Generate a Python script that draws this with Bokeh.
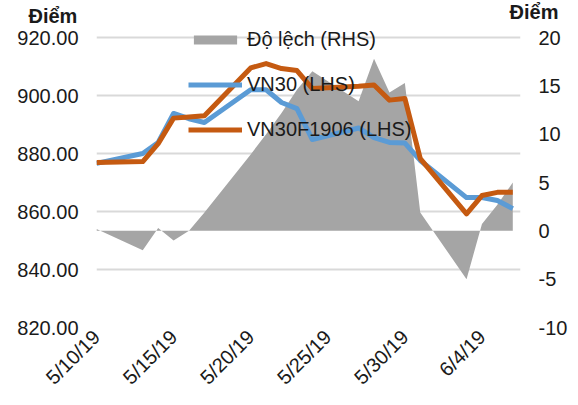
import pandas as pd
from bokeh.plotting import figure
from bokeh.models import (Range1d, LinearAxis, FixedTicker, Title,
                          Legend, LegendItem, NumeralTickFormatter)
from bokeh.embed import file_html
from bokeh.resources import INLINE

dates = ["2019-05-10", "2019-05-13", "2019-05-14", "2019-05-15", "2019-05-16", "2019-05-17",
         "2019-05-20", "2019-05-21", "2019-05-22", "2019-05-23", "2019-05-24",
         "2019-05-27", "2019-05-28", "2019-05-29", "2019-05-30", "2019-05-31",
         "2019-06-03", "2019-06-04", "2019-06-05", "2019-06-06"]
vn30 = [876.6, 880.0, 883.8, 893.8, 892.0, 890.7, 902.0, 902.0, 897.6, 895.5, 884.8,
        888.8, 885.5, 883.8, 883.6, 877.6, 864.8, 864.8, 863.8, 861.0]
vn30f = [876.9, 877.2, 883.4, 892.2, 892.6, 893.0, 909.5, 911.0, 909.3, 908.6, 902.4,
         903.2, 903.6, 898.4, 899.0, 878.2, 859.2, 865.5, 866.6, 866.6]
dev = [0.2, -2.0, 0.3, -1.0, 0.0, 1.9, 7.9, 10.0, 12.2, 14.6, 16.5,
       13.4, 17.8, 14.3, 15.3, 1.9, -5.0, 0.7, 2.7, 5.0]
tick_dates = ["2019-05-10", "2019-05-15", "2019-05-20", "2019-05-25", "2019-05-30", "2019-06-04"]
tick_labels = ["5/10/19", "5/15/19", "5/20/19", "5/25/19", "5/30/19", "6/4/19"]
left_ticks = [820, 840, 860, 880, 900, 920]
right_ticks = [-10, -5, 0, 5, 10, 15, 20]
left_unit = "Điểm"
right_unit = "Điểm"

base = pd.Timestamp(dates[0])
xs = [(pd.Timestamp(d) - base).days for d in dates]
xt = [(pd.Timestamp(d) - base).days for d in tick_dates]

FONT = "Liberation Sans"
BLUE = "#5b9bd5"
ORANGE = "#c55a11"
GRAY = "#a5a5a5"

# frame extends 12px above the top gridline so the legend is not clipped
PAD = 12 / 290
lo_l, hi_l = left_ticks[0], left_ticks[-1]
lo_r, hi_r = right_ticks[0], right_ticks[-1]

p = figure(frame_width=424, frame_height=302, output_backend="svg", toolbar_location=None,
           x_range=Range1d(0, 27.5),
           y_range=Range1d(lo_l, hi_l + (hi_l - lo_l) * PAD),
           min_border_left=96, min_border_right=50, min_border_top=25, min_border_bottom=70)
p.outline_line_color = None
p.background_fill_color = "white"
p.extra_y_ranges = {"rhs": Range1d(lo_r, hi_r + (hi_r - lo_r) * PAD)}

area = p.varea(x=xs, y1=[0] * len(xs), y2=dev, fill_color=GRAY, y_range_name="rhs")
l1 = p.line(xs, vn30, line_color=BLUE, line_width=5, line_join="round")
l2 = p.line(xs, vn30f, line_color=ORANGE, line_width=5, line_join="round")

# axes
p.xaxis.ticker = FixedTicker(ticks=xt)
p.xaxis.major_label_overrides = {t: s for t, s in zip(xt, tick_labels)}
p.xaxis.major_label_orientation = 0.785398
p.yaxis.ticker = FixedTicker(ticks=left_ticks)
p.yaxis.formatter = NumeralTickFormatter(format="0.00")
p.yaxis.major_label_standoff = 18
p.xaxis.major_label_standoff = 6

ax_r = LinearAxis(y_range_name="rhs", ticker=FixedTicker(ticks=right_ticks),
                  formatter=NumeralTickFormatter(format="0"))
ax_r.major_label_standoff = 18
p.add_layout(ax_r, "right")

for ax in [p.xaxis[0], p.yaxis[0], ax_r]:
    ax.axis_line_color = None
    ax.major_tick_line_color = None
    ax.minor_tick_line_color = None
    ax.major_tick_out = 0
    ax.major_tick_in = 0
    ax.major_label_text_font = FONT
    ax.major_label_text_font_size = "20px"
    ax.major_label_text_color = "#1a1a1a"

p.xgrid.grid_line_color = None
p.ygrid.grid_line_color = "#d9d9d9"
p.ygrid.grid_line_width = 2
p.ygrid.ticker = FixedTicker(ticks=left_ticks)

legend = Legend(items=[LegendItem(label="Độ lệch (RHS)", renderers=[area]),
                       LegendItem(label="VN30 (LHS)", renderers=[l1]),
                       LegendItem(label="VN30F1906 (LHS)", renderers=[l2])],
                location=(92, 186))
legend.border_line_color = None
legend.background_fill_alpha = 0
legend.padding = 0
legend.margin = 0
legend.glyph_width = 54
legend.glyph_height = 11
legend.label_height = 20
legend.spacing = 22
legend.label_standoff = 5
legend.label_text_font = FONT
legend.label_text_font_size = "20px"
legend.label_text_color = "#1a1a1a"
p.add_layout(legend, "center")

# axis unit titles above the value axes
t_left = Title(text=left_unit, align="left", offset=-68, standoff=-2,
               text_font=FONT, text_font_size="20px", text_font_style="bold",
               text_color="#1a1a1a")
t_right = Title(text=right_unit, align="right", offset=-38, standoff=-38,
                text_font=FONT, text_font_size="20px", text_font_style="bold",
                text_color="#1a1a1a")
p.add_layout(t_left, "above")
p.add_layout(t_right, "above")

open("out.html", "w").write(file_html(p, INLINE))
